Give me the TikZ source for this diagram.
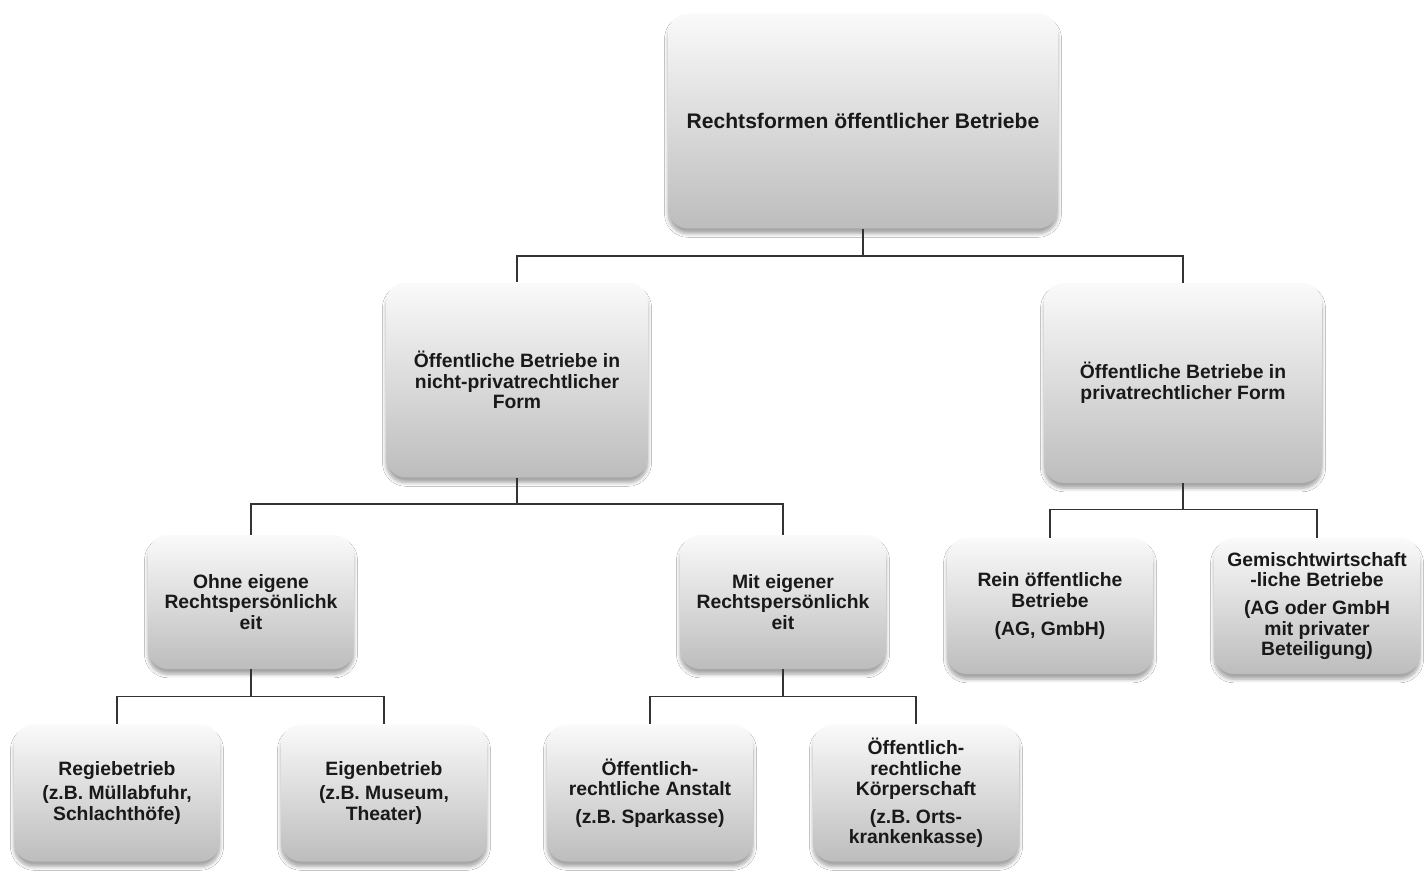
\documentclass[tikz,border=0pt]{standalone}
\usepackage{fontspec}
\setmainfont{Liberation Sans}
\usetikzlibrary{shadows.blur}

\begin{document}
\begin{tikzpicture}[x=0.02cm,y=-0.02cm]
\tikzstyle{lien}=[line width=0.9pt,draw=black!80]
\tikzset{forme/.style={rounded corners=0.4cm,top color=gray!4,middle color=gray!12,bottom color=gray!52,
blur shadow={shadow xshift=0pt,shadow yshift=-3pt,shadow blur radius=2pt,shadow blur steps=6,shadow opacity=35},
font=\bfseries\fontsize{11}{11.7}\selectfont,text=black!90,align=center,inner sep=0pt,minimum width=#1},
forme/.default=4.12cm}
\useasboundingbox[fill=white] (0,0) rectangle (1425,872);

\node[forme=7.8cm,minimum height=4.3cm,font=\bfseries\fontsize{12}{14}\selectfont] (R) at (863,121) {Rechtsformen öffentlicher Betriebe};
\node[forme=5.24cm,minimum height=3.9cm] (NP) at (517,380) {Öffentliche Betriebe in\\nicht-privatrechtlicher\\Form};
\node[forme=5.56cm,minimum height=4.0cm] (P) at (1183,383) {Öffentliche Betriebe in\\privatrechtlicher Form};

\node[forme,minimum height=2.68cm] (OR) at (251,602) {Ohne eigene\\Rechtspersönlichk\\eit};
\node[forme,minimum height=2.68cm] (MR) at (783,602) {Mit eigener\\Rechtspersönlichk\\eit};
\node[forme,minimum height=2.72cm] (RO) at (1050,606) {Rein öffentliche\\Betriebe\\[4pt](AG, GmbH)};
\node[forme,minimum height=2.72cm] (GW) at (1317,606) {Gemischtwirtschaft\\-liche Betriebe\\[4pt](AG oder GmbH\\mit privater\\Beteiligung)};

\node[forme,minimum height=2.74cm] (RB) at (117,793) {Regiebetrieb\\[2pt](z.B. Müllabfuhr,\\Schlachthöfe)};
\node[forme,minimum height=2.74cm] (EB) at (384,793) {Eigenbetrieb\\[2pt](z.B. Museum,\\Theater)};
\node[forme,minimum height=2.74cm] (OA) at (650,793) {Öffentlich-\\rechtliche Anstalt\\[4pt](z.B. Sparkasse)};
\node[forme,minimum height=2.74cm] (KS) at (916,793) {Öffentlich-\\rechtliche\\Körperschaft\\[4pt](z.B. Orts-\\krankenkasse)};

\draw[lien] (R.south) -- ++(0,27) -| (NP.north);
\draw[lien] (R.south) -- ++(0,27) -| (P.north);
\draw[lien] (NP.south) -- ++(0,26) -| (OR.north);
\draw[lien] (NP.south) -- ++(0,26) -| (MR.north);
\draw[lien] (P.south) -- ++(0,26) -| (RO.north);
\draw[lien] (P.south) -- ++(0,26) -| (GW.north);
\draw[lien] (OR.south) -- ++(0,27) -| (RB.north);
\draw[lien] (OR.south) -- ++(0,27) -| (EB.north);
\draw[lien] (MR.south) -- ++(0,27) -| (OA.north);
\draw[lien] (MR.south) -- ++(0,27) -| (KS.north);

\end{tikzpicture}
\end{document}
